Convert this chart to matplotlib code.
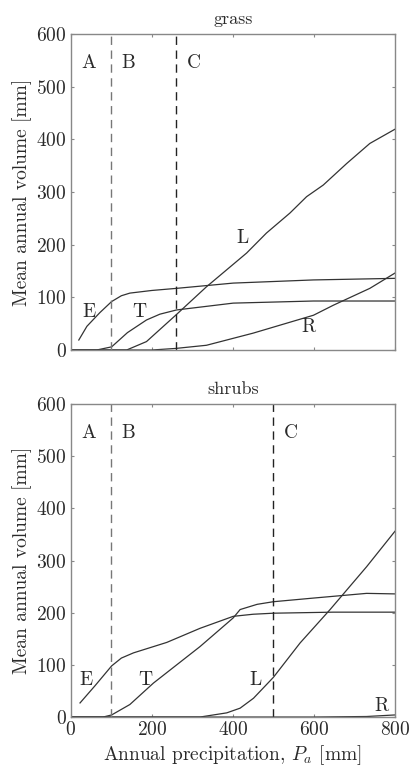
import numpy as np
import matplotlib
matplotlib.use('Agg')
import matplotlib.pyplot as plt

plt.rcParams['font.family'] = ['cmr10', 'DejaVu Serif']
plt.rcParams['mathtext.fontset'] = 'cm'
plt.rcParams['axes.formatter.use_mathtext'] = True
plt.rcParams['font.size'] = 13

# grass panel
g_E_x = [20, 40, 72, 101, 125, 146, 200, 261, 401, 599, 800]
g_E_y = [19, 45, 71, 92, 103, 108, 113, 117, 127, 133, 136]
g_T_x = [0, 64, 101, 140, 187, 220, 261, 401, 599, 800]
g_T_y = [0, 0, 6, 33, 57, 68, 76, 89, 93, 93]
g_L_x = [0, 138, 187, 259, 335, 434, 483, 541, 582, 623, 681, 738, 800]
g_L_y = [0, 0, 16, 66, 120, 184, 222, 260, 291, 313, 354, 392, 419]
g_R_x = [0, 200, 259, 335, 450, 599, 648, 738, 800]
g_R_y = [0, 0, 3, 9, 32, 66, 85, 117, 146]

# shrubs panel
s_E_x = [23, 60, 101, 125, 155, 237, 319, 401, 450, 500, 648, 800]
s_E_y = [27, 60, 98, 113, 123, 143, 170, 193, 197, 199, 201, 201]
s_T_x = [0, 80, 101, 146, 204, 319, 401, 418, 460, 500, 599, 730, 800]
s_T_y = [0, 0, 4, 24, 65, 135, 190, 206, 216, 221, 228, 237, 236]
s_L_x = [0, 319, 385, 418, 451, 500, 566, 640, 730, 800]
s_L_y = [0, 0, 8, 17, 36, 76, 142, 206, 288, 356]
s_R_x = [0, 600, 730, 800]
s_R_y = [0, 0, 1, 4]

grass_bounds = [100, 260]
shrub_bounds = [100, 500]

grass_labels = {'E': (44, 73), 'T': (169, 73), 'L': (424, 212), 'R': (586, 44)}
shrub_labels = {'E': (38, 71), 'T': (183, 71), 'L': (455, 71), 'R': (767, 22)}

fig = plt.figure(figsize=(4.12, 7.73), dpi=100)
ax1 = fig.add_axes([0.1716, 0.5472, 0.787, 0.409])
ax2 = fig.add_axes([0.1716, 0.0724, 0.787, 0.405])

lc = '#333333'
tc = '#2a2a2a'


def panel(ax, curves, bounds, labels, title):
    for x, y in curves:
        ax.plot(x, y, color=lc, lw=0.9)
    ax.axvline(bounds[0], color='#777777', ls=(0, (6, 4)), lw=1.0)
    ax.axvline(bounds[1], color='#222222', ls=(0, (6, 4)), lw=1.0)
    for s, xp in zip(['A', 'B', 'C'], [44, bounds[0] + 43, bounds[1] + 43]):
        ax.text(xp, 545, s, ha='center', va='center', fontsize=14, color=tc)
    for s, (x, y) in labels.items():
        ax.text(x, y, s, ha='center', va='center', fontsize=14, color=tc)
    ax.set_xlim(0, 800)
    ax.set_ylim(0, 600)
    ax.set_xticks([0, 200, 400, 600, 800])
    ax.set_yticks([0, 100, 200, 300, 400, 500, 600])
    ax.tick_params(direction='in', length=2.5, width=0.8, top=True, right=True,
                   colors='#888888', labelcolor=tc, labelsize=14, pad=3)
    for sp in ax.spines.values():
        sp.set_color('#888888')
        sp.set_linewidth(1.0)
    ax.set_ylabel('Mean annual volume [mm]', fontsize=14, color=tc, labelpad=3)
    ax.set_title(title, fontsize=13, color=tc, pad=7)


panel(ax1, [(g_E_x, g_E_y), (g_T_x, g_T_y), (g_L_x, g_L_y), (g_R_x, g_R_y)],
      grass_bounds, grass_labels, 'grass')
panel(ax2, [(s_E_x, s_E_y), (s_T_x, s_T_y), (s_L_x, s_L_y), (s_R_x, s_R_y)],
      shrub_bounds, shrub_labels, 'shrubs')
ax1.set_xticklabels([])
ax2.set_xlabel('Annual precipitation, $P_a$ [mm]', fontsize=14, color=tc, labelpad=3)

fig.savefig('out.png', dpi=100)
